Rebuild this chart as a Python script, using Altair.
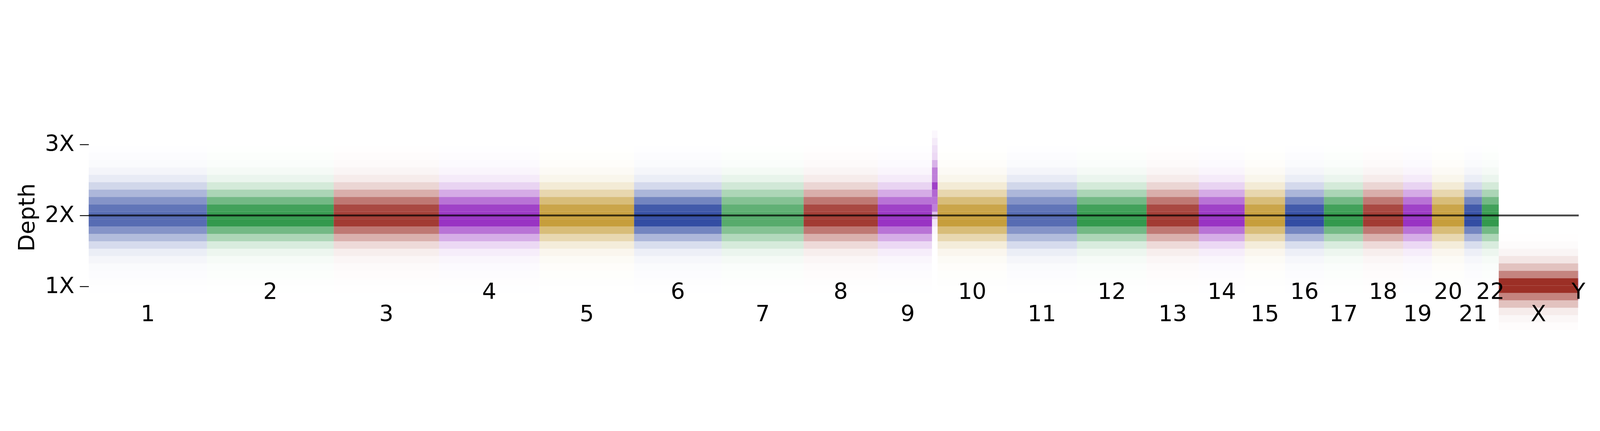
import altair as alt
import pandas as pd

# genome-wide depth, binned. x = genomic position (Mb, gaps removed), y = depth
SEG_CHROM = ["1", "2", "3", "4", "5", "6", "7", "8", "9", "9", "10", "11", "12",
             "13", "14", "15", "16", "17", "18", "19", "20", "21", "22", "X", "Y"]
SEG_MB = [225.6, 241.9, 200.9, 191.9, 180.3, 167.1, 156.4, 141.5, 103.4, 10.7,
          132.1, 133.8, 132.9, 99.6, 87.6, 76.9, 74.4, 74.4, 76.5, 55.1, 61.5,
          33.8, 32.1, 151.3, 1.3]
SEG_PROFILE = ["wide", "std", "std", "std", "std", "std", "wide", "std", "std", "spike",
               "std", "wide", "std", "std", "std", "std", "std", "std", "std", "std",
               "std", "std", "std", "x", "y"]

CHROMS = ["1", "2", "3", "4", "5", "6", "7", "8", "9", "10", "11", "12", "13",
          "14", "15", "16", "17", "18", "19", "20", "21", "22", "X", "Y"]
PALETTE = ["#00208c", "#008020", "#8b0a00", "#7f00b4", "#b8860b"]

DEPTH_BINS = [0.44, 0.544, 0.648, 0.752, 0.856, 0.96, 1.064, 1.168, 1.272, 1.376,
              1.48, 1.584, 1.688, 1.792, 1.896, 2.0, 2.104, 2.208, 2.312, 2.416,
              2.52, 2.624, 2.728, 2.832, 2.936, 3.04, 3.144]

# density (as opacity) of each depth bin
PROFILES = {
    "std":   [0, 0, 0, 0, 0, 0.004, 0.006, 0.01, 0.02, 0.035, 0.07, 0.15, 0.32, 0.55,
              0.8, 0.78, 0.74, 0.55, 0.33, 0.17, 0.08, 0.04, 0.02, 0.01, 0.005, 0, 0],
    "wide":  [0, 0, 0, 0, 0, 0.004, 0.006, 0.012, 0.02, 0.04, 0.08, 0.16, 0.3, 0.48,
              0.66, 0.66, 0.62, 0.48, 0.32, 0.18, 0.09, 0.045, 0.02, 0.01, 0.005, 0, 0],
    "spike": [0, 0, 0, 0, 0, 0, 0, 0, 0, 0, 0, 0, 0.01, 0.03,
              0.1, 0.25, 0.5, 0.55, 0.6, 0.75, 0.5, 0.5, 0.3, 0.15, 0.12, 0.08, 0.03],
    "x":     [0.01, 0.03, 0.08, 0.25, 0.5, 0.85, 0.85, 0.5, 0.25, 0.1, 0.04, 0.015, 0.005, 0,
              0, 0, 0, 0, 0, 0, 0, 0, 0, 0, 0, 0, 0],
    "y":     [0, 0, 0, 0.05, 0.15, 0.25, 0.25, 0.15, 0.05, 0, 0, 0, 0, 0,
              0, 0, 0, 0, 0, 0, 0, 0, 0, 0, 0, 0, 0],
}

Y_TICKS = [1, 2, 3]
NORMAL_DEPTH = 2
BIN_HALF = 0.052

FONT = "DejaVu Sans"
W = 6652
H = 999


def build_tables():
    rows = []
    starts = {}
    ends = {}
    pos = 0.0
    for chrom, size, prof in zip(SEG_CHROM, SEG_MB, SEG_PROFILE):
        color = PALETTE[CHROMS.index(chrom) % len(PALETTE)]
        starts.setdefault(chrom, pos)
        for depth, a in zip(DEPTH_BINS, PROFILES[prof]):
            if a > 0:
                rows.append({"x": pos, "x2": pos + size,
                             "y": depth - BIN_HALF, "y2": depth + BIN_HALF,
                             "color": color, "alpha": a})
        pos += size
        ends[chrom] = pos
    bins = pd.DataFrame(rows)
    labels = pd.DataFrame({
        "chrom": CHROMS,
        "mid": [(starts[c] + ends[c]) / 2 for c in CHROMS],
        "row": ["low" if i % 2 == 0 else "high" for i in range(len(CHROMS))],
    })
    return bins, labels, pos


def depth_plot(bins, labels, total):
    xs = alt.Scale(domain=[0, total], nice=False, zero=False)
    ys = alt.Scale(domain=[0.35, 3.5], nice=False, zero=False)

    cells = alt.Chart(bins).mark_rect(strokeWidth=0).encode(
        x=alt.X("x:Q", scale=xs, axis=None),
        x2="x2",
        y=alt.Y("y:Q", scale=ys, axis=alt.Axis(
            values=Y_TICKS, labelExpr="datum.value + 'X'", grid=False, domain=False,
            labelFontSize=100, labelFont=FONT, labelColor="black",
            labelBaseline="alphabetic", labelOffset=29, labelPadding=24,
            tickSize=40, tickWidth=4, tickColor="black",
            title="Depth", titleFontSize=100, titleFont=FONT, titleFontWeight="normal",
            titleColor="black", titleX=-273, titleY=484, titleAlign="center",
            titleBaseline="middle", titleAngle=270)),
        y2="y2",
        color=alt.Color("color:N", scale=None, legend=None),
        opacity=alt.Opacity("alpha:Q", scale=None, legend=None),
    )

    # 2X reference line across the whole genome
    line = alt.Chart(pd.DataFrame({"x": [0], "x2": [total], "y": [NORMAL_DEPTH]})).mark_rule(
        color="black", strokeWidth=8, opacity=0.72
    ).encode(
        x=alt.X("x:Q", scale=xs, axis=None),
        x2="x2",
        y=alt.Y("y:Q", scale=ys),
    )

    # chromosome names, two staggered rows
    text_low = alt.Chart(labels).transform_filter(alt.datum.row == "low").mark_text(
        font=FONT, fontSize=100, align="center", baseline="alphabetic", color="black"
    ).encode(x=alt.X("mid:Q", scale=xs, axis=None), y=alt.value(949), text="chrom:N")

    text_high = alt.Chart(labels).transform_filter(alt.datum.row == "high").mark_text(
        font=FONT, fontSize=100, align="center", baseline="alphabetic", color="black"
    ).encode(x=alt.X("mid:Q", scale=xs, axis=None), y=alt.value(850), text="chrom:N")

    return (cells + line + text_low + text_high).properties(
        width=W, height=H,
        autosize="none",
        padding={"left": 382, "top": 68, "right": 81, "bottom": 21},
    ).configure_view(stroke=None)


def main():
    bins, labels, total = build_tables()
    chart = depth_plot(bins, labels, total)
    chart.save("out.html", embed_options={"renderer": "svg", "actions": False})


main()
